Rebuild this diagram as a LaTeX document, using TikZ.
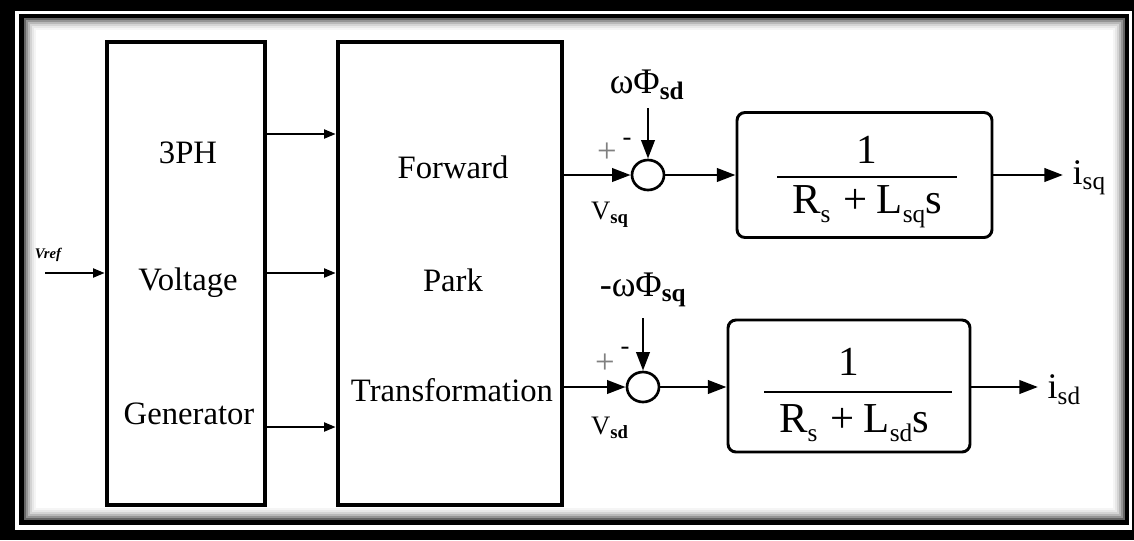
\documentclass[tikz,border=0pt]{standalone}
\usepackage{fontspec}
\setmainfont{Liberation Serif}
\usetikzlibrary{arrows.meta,shapes.geometric}
\newcommand{\lowsub}[1]{\raisebox{-0.45ex}{\fontsize{19}{20}\selectfont #1}}
\tikzset{
  bigblk/.style={draw, line width=3pt, inner sep=0pt},
  tfblk/.style={draw, line width=2.2pt, rounded corners=6pt, inner sep=0pt},
  sumnode/.style={draw, ellipse, line width=2pt, minimum width=24pt, minimum height=22.5pt, inner sep=0pt},
  smallarr/.style={line width=2.2pt, -{Triangle[length=9pt,width=6.5pt]}},
  bigarr/.style={line width=2.2pt, -{Triangle[length=14pt,width=10pt]}},
  maintxt/.style={font=\fontsize{24.5}{26}\selectfont},
  sumlbl/.style={font=\fontsize{27}{28}\selectfont},
  vlbl/.style={font=\fontsize{20}{22}\selectfont},
  ilbl/.style={font=\fontsize{27}{28}\selectfont, anchor=west},
  numtxt/.style={font=\fontsize{31}{32}\selectfont},
  dentxt/.style={font=\fontsize{32}{34}\selectfont},
  signlbl/.style={font=\fontsize{26}{28}\selectfont, text=black!50}
}
\begin{document}
\begin{tikzpicture}[x=0.75pt,y=-0.75pt]
\useasboundingbox (0,0) rectangle (1134,540);
% frame
\fill[black] (0,0) rectangle (1134,540);
\fill[white] (15,11) rectangle (1132,530);
\fill[black] (19,14) rectangle (1129,525);
\fill[white] (24,18) rectangle (1125,520);
\foreach \k/\c in {0/60,1/42,2/28,3/17,4/9,5/4}{
  \draw[black!\c, line width=1.6pt] ({25+\k*2},{19+\k*2}) rectangle ({1124-\k*2},{519-\k*2});
}
% main blocks
\node[bigblk, minimum width=118.5pt, minimum height=347.25pt] (b1) at (186,273.5) {};
\node[bigblk, minimum width=168pt, minimum height=347.25pt] (b2) at (450,273.5) {};
\node[maintxt] (t3ph) at (188,153) {3PH};
\node[maintxt] (tvolt) at (188,283) {Voltage};
\node[maintxt] (tgen) at (189,414) {Generator};
\node[maintxt] (tfwd) at (453,167) {Forward};
\node[maintxt] (tpark) at (453,280) {Park};
\node[maintxt] (ttrans) at (452,390) {Transformation};
% input
\coordinate (vin) at (45,273);
\node[font=\fontsize{11}{12}\selectfont\bfseries\itshape] (vref) at (48,255) {Vref};
\draw[smallarr] (vin) -- (b1.west |- vin);
% b1 -> b2
\draw[smallarr] (b1.east |- 0,134) -- (b2.west |- 0,134);
\draw[smallarr] (b1.east |- 0,273) -- (b2.west |- 0,273);
\draw[smallarr] (b1.east |- 0,427) -- (b2.west |- 0,427);
% top branch
\node[sumnode] (s1) at (648,175) {};
\node[tfblk, minimum width=191.25pt, minimum height=93.75pt] (tf1) at (864.5,175) {};
\node[numtxt] (n1) at (867,150) {1};
\draw[line width=1.5pt] (777,177) -- (957,177);
\node[dentxt] (d1) at (867,207) {R\lowsub{s}\hspace{0.3em}+\hspace{0.22em}L\lowsub{sq}s};
\coordinate (f1) at (648,108);
\node[sumlbl] (w1) at (647,85) {ωΦ\textsubscript{\textbf{sd}}};
\draw[bigarr] (b2.east |- s1) -- (s1.west);
\draw[bigarr] (f1) -- (s1.north);
\draw[bigarr] (s1.east) -- (tf1.west);
\coordinate (o1) at (1063,175);
\draw[bigarr] (tf1.east) -- (o1);
\node[ilbl] (isq) at (1068,178) {i\textsubscript{sq}};
\node[signlbl] (p1) at (607,153) {+};
\node[font=\fontsize{20}{20}\selectfont] (m1) at (627,142) {-};
\node[vlbl] (vsq) at (610,215) {V\textsubscript{\textbf{sq}}};
% bottom branch
\node[sumnode] (s2) at (643,387) {};
\node[tfblk, minimum width=181.5pt, minimum height=99pt] (tf2) at (849,386) {};
\node[numtxt] (n2) at (849,362) {1};
\draw[line width=2.2pt] (764,392) -- (952,392);
\node[dentxt] (d2) at (854,423) {R\lowsub{s}\hspace{0.3em}+\hspace{0.22em}L\lowsub{sd}s};
\coordinate (f2) at (643,318);
\node[sumlbl] (w2) at (643,290) {-ωΦ\textsubscript{\textbf{sq}}};
\draw[bigarr] (b2.east |- s2) -- (s2.west);
\draw[bigarr] (f2) -- (s2.north);
\draw[bigarr] (s2.east) -- (tf2.west |- s2);
\coordinate (o2) at (1038,387);
\draw[bigarr] (tf2.east |- o2) -- (o2);
\node[ilbl] (isd) at (1043,390) {i\textsubscript{sd}};
\node[signlbl] (p2) at (605,364) {+};
\node[font=\fontsize{20}{20}\selectfont] (m2) at (625,351) {-};
\node[vlbl] (vsd) at (610,428) {V\textsubscript{\textbf{sd}}};
\end{tikzpicture}
\end{document}
